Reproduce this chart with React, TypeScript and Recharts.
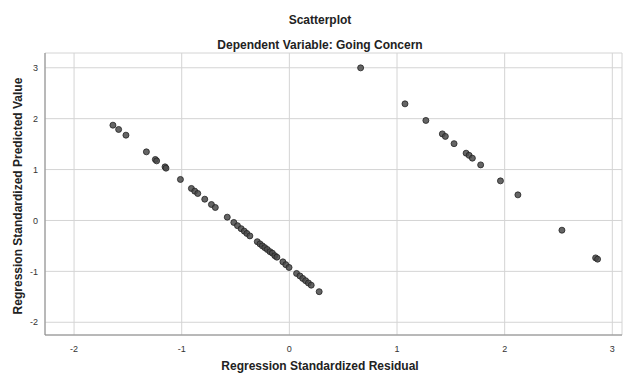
import { ScatterChart, Scatter, XAxis, YAxis, CartesianGrid } from 'recharts';

// standardized residual (x) vs standardized predicted value (y)
const RESIDUALS = [
  -1.639, -1.586, -1.518, -1.328, -1.245, -1.233, -1.155, -1.146, -1.012, -0.91,
  -0.879, -0.851, -0.786, -0.724, -0.688, -0.577, -0.516, -0.482, -0.448, -0.419,
  -0.395, -0.367, -0.298, -0.273, -0.251, -0.228, -0.205, -0.18, -0.158, -0.135,
  -0.116, -0.06, -0.033, -0.003, 0.067, 0.098, 0.124, 0.151, 0.177, 0.203,
  0.277, 0.662, 1.074, 1.268, 1.421, 1.449, 1.53, 1.642, 1.67, 1.7,
  1.777, 1.961, 2.123, 2.532, 2.845, 2.863,
];

const PREDICTED = [
  1.872, 1.788, 1.676, 1.348, 1.198, 1.171, 1.053, 1.028, 0.806, 0.629,
  0.576, 0.53, 0.418, 0.314, 0.255, 0.065, -0.039, -0.102, -0.161, -0.21,
  -0.255, -0.303, -0.417, -0.46, -0.499, -0.534, -0.57, -0.613, -0.642, -0.692,
  -0.721, -0.813, -0.868, -0.923, -1.041, -1.09, -1.138, -1.183, -1.228, -1.271,
  -1.399, 2.998, 2.291, 1.965, 1.701, 1.652, 1.509, 1.322, 1.279, 1.224,
  1.092, 0.778, 0.503, -0.191, -0.735, -0.76,
];

const X_TICKS = [-2, -1, 0, 1, 2, 3];
const Y_TICKS = [-2, -1, 0, 1, 2, 3];

const points = RESIDUALS.map((x, i) => ({ x, y: PREDICTED[i] }));

const FONT = '"Liberation Sans", Arial, sans-serif';

const Dot = (props: any) => (
  <circle
    cx={props.cx}
    cy={props.cy}
    r={3}
    fill="#4a4a4a"
    fillOpacity={0.85}
    stroke="#222"
    strokeWidth={0.8}
  />
);

const titleStyle: React.CSSProperties = {
  position: 'absolute',
  left: 0,
  width: 640,
  textAlign: 'center',
  fontWeight: 'bold',
  fontSize: 12,
  color: '#222',
  lineHeight: '14px',
};

export default function App() {
  return (
    <div
      style={{
        position: 'absolute',
        left: 0,
        top: 0,
        width: 623,
        height: 374,
        background: '#fff',
        fontFamily: FONT,
      }}
    >
      <div style={{ ...titleStyle, top: 13 }}>Scatterplot</div>
      <div style={{ ...titleStyle, top: 38 }}>Dependent Variable: Going Concern</div>
      <div style={{ ...titleStyle, top: 359 }}>Regression Standardized Residual</div>
      <div
        style={{
          position: 'absolute',
          left: 18,
          top: 196,
          transform: 'translate(-50%, -50%) rotate(-90deg)',
          whiteSpace: 'nowrap',
          fontWeight: 'bold',
          fontSize: 12,
          color: '#222',
        }}
      >
        Regression Standardized Predicted Value
      </div>
      <ScatterChart
        width={623}
        height={374}
        margin={{ top: 53, right: 1, bottom: 0, left: 0 }}
        style={{ position: 'absolute', left: 0, top: 0 }}
      >
        <CartesianGrid stroke="#d4d4d4" strokeWidth={1} />
        <XAxis
          type="number"
          dataKey="x"
          domain={[-2.27, 3.09]}
          ticks={X_TICKS}
          allowDataOverflow
          height={39}
          tickSize={0}
          tickMargin={11}
          axisLine={{ stroke: '#888' }}
          tick={{ fontSize: 9, fill: '#333', fontFamily: FONT }}
        />
        <YAxis
          type="number"
          dataKey="y"
          domain={[-2.25, 3.29]}
          ticks={Y_TICKS}
          allowDataOverflow
          width={45}
          tickSize={0}
          tickMargin={7}
          axisLine={{ stroke: '#888' }}
          tick={{ fontSize: 9, fill: '#333', fontFamily: FONT }}
        />
        <Scatter data={points} shape={Dot} isAnimationActive={false} />
      </ScatterChart>
    </div>
  );
}
